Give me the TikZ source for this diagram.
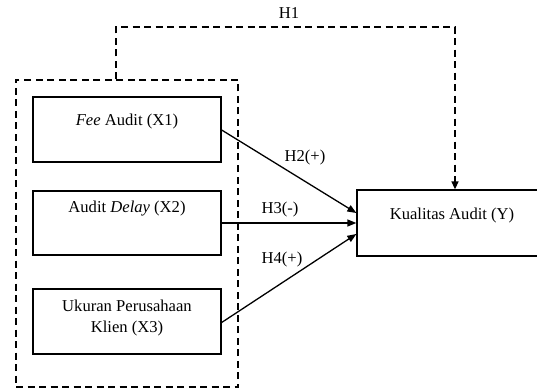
\documentclass[tikz,border=0pt]{standalone}
\usepackage{fontspec}
\setmainfont{Liberation Serif}
\usetikzlibrary{arrows.meta}
\begin{document}
\begin{tikzpicture}[x=1pt,y=-1pt,
  box/.style={draw, line width=1.3pt, rectangle, inner sep=0pt},
  lbl/.style={font=\fontsize{16.6}{19.5}\selectfont, inner sep=0pt},
  dsh/.style={line width=1.4pt, dash pattern=on 7pt off 4.5pt},
  arr/.style={line width=1.3pt, -{Triangle[length=9pt,width=7pt]}}]
\useasboundingbox (0,0) rectangle (537,390);
% outer dashed group
\node[draw, dsh, rectangle, inner sep=0pt, minimum width=222pt, minimum height=307pt] (grp) at (127,233.5) {};
% boxes
\node[box, minimum width=188pt, minimum height=65pt] (x1) at (127,129.5) {};
\node[box, minimum width=188pt, minimum height=64pt] (x2) at (127,223) {};
\node[box, minimum width=188pt, minimum height=65pt] (x3) at (127,321.5) {};
\node[box, minimum width=190pt, minimum height=66pt] (y) at (452,223) {};
% texts
\node[lbl] (t1) at (127,122) {\textit{Fee} Audit (X1)};
\node[lbl] (t2) at (127,209) {Audit \textit{Delay} (X2)};
\node[lbl, align=center] (t3) at (127,318) {Ukuran Perusahaan\\[2pt]Klien (X3)};
\node[lbl] (ty) at (452,216) {Kualitas Audit (Y)};
% H1 path
\coordinate (h1a) at (116,27);
\coordinate (h1b) at (455,27);
\draw[dsh, -{Triangle[length=8pt,width=7pt]}] (grp.north -| h1a) -- (h1a) -- (h1b) -- (y.north -| h1b);
\node[lbl] (lh1) at (289,13) {H1};
% arrows
\draw[arr] (x1.east) ++(0,0.5) -- ([yshift=10pt]y.west);
\draw[arr] (x2.east) -- (y.west);
\draw[arr] (x3.east) ++(0,1) -- ([yshift=-11pt]y.west);
\node[lbl] (lh2) at (305,158) {H2(+)};
\node[lbl] (lh3) at (280,210) {H3(-)};
\node[lbl] (lh4) at (282,260) {H4(+)};
\end{tikzpicture}
\end{document}
